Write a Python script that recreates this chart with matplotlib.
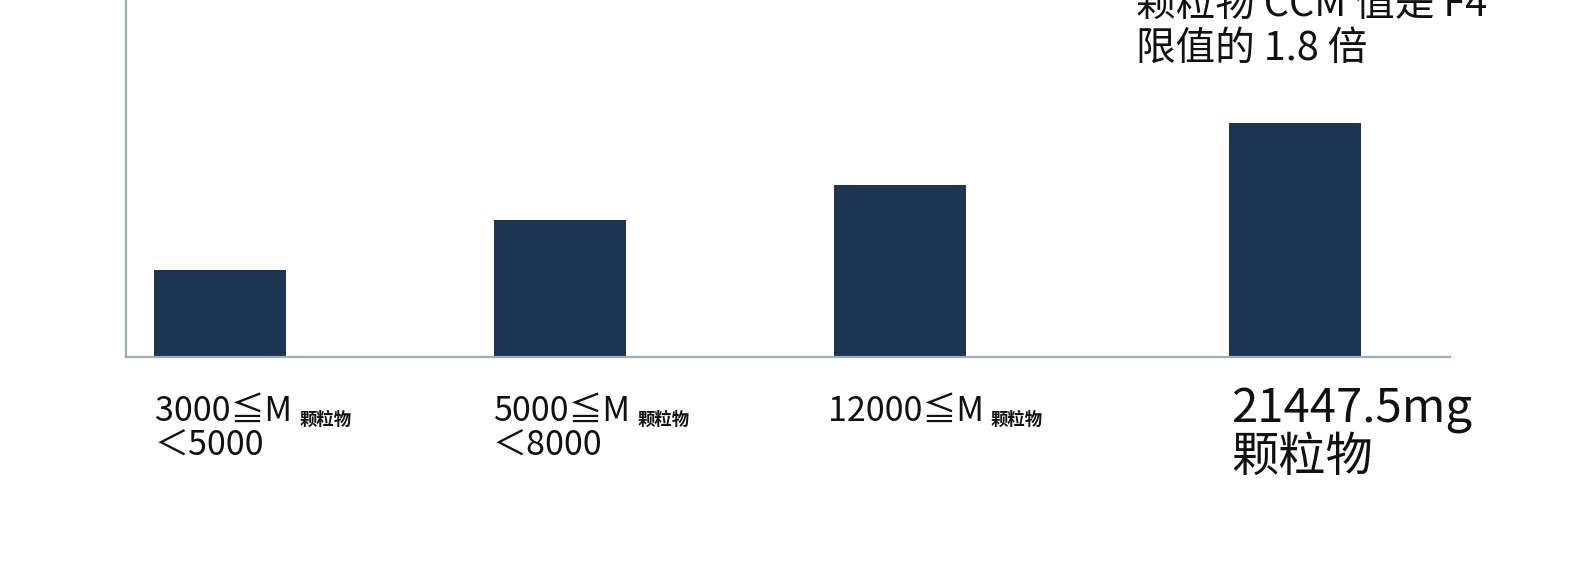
import matplotlib
matplotlib.use("Agg")
import matplotlib.pyplot as plt

plt.rcParams['font.family'] = ['Noto Sans CJK SC', 'DejaVu Sans']

# ---- data ----
categories_main = ["3000≦M", "5000≦M", "12000≦M", "21447.5mg"]
categories_sub = ["颗粒物", "颗粒物", "颗粒物", "颗粒物"]
categories_second = ["＜5000", "＜8000", "", ""]
positions = [0, 1, 2, 3.162]
values = [87, 137, 172.5, 234]
note_lines = ["颗粒物 CCM 值是 F4", "限值的 1.8 倍"]

W, H = 1581, 578
fig = plt.figure(figsize=(W / 100, H / 100), dpi=100)
fig.patch.set_facecolor("white")

ax = fig.add_axes([126 / W, (H - 357) / H, 1324 / W, 357 / H])
bar_w = 0.388
bar_color = "#1b3552"
ax.bar(positions, values, width=bar_w, color=bar_color, zorder=2)
ax.set_xlim(-0.2765, 3.618)
ax.set_ylim(0, 357)

axis_color = "#a0abba"
for s in ["top", "right"]:
    ax.spines[s].set_visible(False)
for s in ["left", "bottom"]:
    ax.spines[s].set_color(axis_color)
    ax.spines[s].set_linewidth(1.6)
ax.set_xticks([])
ax.set_yticks([])

txt_color = "#111111"

def fx(px):
    return px / W

def fy(py):
    return (H - py) / H

label_x = [155, 493, 828, 1231]
for i in range(3):
    t = fig.text(fx(label_x[i]), fy(421), categories_main[i], fontsize=24.5,
                 color=txt_color, va="baseline", ha="left", weight="medium")
    ax.annotate(categories_sub[i], xy=(1, 0), xycoords=t, xytext=(5, 0),
                textcoords="offset points", fontsize=12.5, color=txt_color,
                va="bottom", ha="left", annotation_clip=False, weight="bold")
    if categories_second[i]:
        fig.text(fx(label_x[i] - 1), fy(456), categories_second[i], fontsize=24.5,
                 color=txt_color, va="baseline", ha="left", weight="medium")

fig.text(fx(label_x[3]), fy(423), categories_main[3], fontsize=34,
         color=txt_color, va="baseline", ha="left", weight="medium")
fig.text(fx(label_x[3]), fy(471), categories_sub[3], fontsize=34,
         color=txt_color, va="baseline", ha="left", weight="medium")

fig.text(fx(1136), fy(16), note_lines[0], fontsize=28.5, color=txt_color,
         va="baseline", ha="left")
fig.text(fx(1136), fy(60), note_lines[1], fontsize=28.5, color=txt_color,
         va="baseline", ha="left")

fig.savefig("out.png", dpi=100, facecolor="white")
